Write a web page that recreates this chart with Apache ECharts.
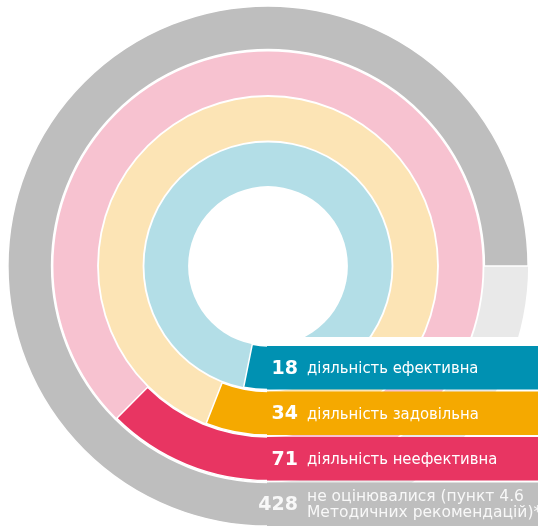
<!DOCTYPE html>
<html>
<head>
<meta charset="utf-8">
<script src="https://cdn.jsdelivr.net/npm/echarts@6/dist/echarts.min.js"></script>
<style>
html,body{margin:0;padding:0;background:#fff;}
#chart{width:538px;height:526px;}
</style>
</head>
<body>
<div id="chart"></div>
<script>
// ---- data ----
const categories = ['діяльність ефективна', 'діяльність задовільна', 'діяльність неефективна', 'не оцінювалися (пункт 4.6\nМетодичних рекомендацій)*'];
const counts = [18, 34, 71, 428];
const fullCircle = 570.7; // value that would fill a whole ring (428 fills three quarters)

// ---- styles ----
const darkColors = ['#0091b2', '#f5a900', '#e83562', '#bebebe'];
const lightColors = ['#b3dee7', '#fce4b5', '#f7c2d0', '#e9e9e9'];
const textColors = ['#ffffff', '#ffffff', '#ffffff', '#f8f8f8'];
const GAP = 0.04;

const chart = echarts.init(document.getElementById('chart'), null, {renderer: 'canvas'});

const option = {
  animation: false,
  backgroundColor: '#ffffff',
  polar: { center: [268, 266], radius: [79, 261] },
  angleAxis: {
    type: 'value', min: 0, max: fullCircle, startAngle: -90, clockwise: true,
    show: false, axisLine: {show: false}, axisTick: {show: false}, axisLabel: {show: false}, splitLine: {show: false}
  },
  radiusAxis: {
    type: 'category', data: categories,
    show: false, axisLine: {show: false}, axisTick: {show: false}, axisLabel: {show: false}, splitLine: {show: false}
  },
  series: [
    {
      type: 'bar', coordinateSystem: 'polar', barCategoryGap: (GAP * 100) + '%', barGap: '-100%',
      data: categories.map((c, i) => ({ value: fullCircle, itemStyle: { color: lightColors[i] } })),
      silent: true, z: 1
    },
    {
      type: 'bar', coordinateSystem: 'polar', barCategoryGap: (GAP * 100) + '%', barGap: '-100%',
      data: counts.map((v, i) => ({ value: v, itemStyle: { color: darkColors[i], borderColor: '#ffffff', borderWidth: 1.5 } })),
      silent: true, z: 2
    },
    {
      type: 'custom', coordinateSystem: 'polar', z: 5, silent: true,
      data: counts.map((v, i) => [i, 0]),
      renderItem: function (params, api) {
        const i = params.dataIndex;
        const cs = params.coordSys;
        const p = api.coord([i, 0]);
        const band = api.size([1, 0])[0];
        const half = band * (1 - GAP) / 2;
        const top = p[1] - half;
        const bottom = p[1] + half;
        const W = api.getWidth();
        const H = api.getHeight();
        const x0 = cs.cx;
        const yMid = (top + bottom) / 2;
        const last = (i === counts.length - 1);
        const children = [];
        if (i === 0) {
          children.push({ type: 'rect', shape: { x: x0, y: top - 9, width: W - x0, height: 9 }, style: { fill: '#ffffff' } });
        }
        const h = last ? (H - top) : (bottom - top);
        children.push({ type: 'rect', shape: { x: x0 - 1, y: top, width: W - x0 + 1, height: h }, style: { fill: darkColors[i] } });
        const cyText = last ? (top + h / 2 + 1) : (yMid + 1);
        children.push({
          type: 'text',
          style: {
            text: String(counts[i]), x: x0 + 30, y: cyText,
            align: 'right', verticalAlign: 'middle',
            fontFamily: 'DejaVu Sans', fontWeight: 'bold', fontSize: 19, fill: textColors[i]
          }
        });
        children.push({
          type: 'text',
          style: {
            text: categories[i], x: x0 + 39, y: cyText,
            align: 'left', verticalAlign: 'middle',
            fontFamily: last ? 'DejaVu Sans' : '"DejaVu Sans Condensed", "DejaVu Sans"',
            fontSize: last ? 15.5 : 16.5, lineHeight: 16.5, fill: textColors[i]
          }
        });
        return { type: 'group', children: children };
      }
    }
  ]
};
chart.setOption(option);
</script>
</body>
</html>
